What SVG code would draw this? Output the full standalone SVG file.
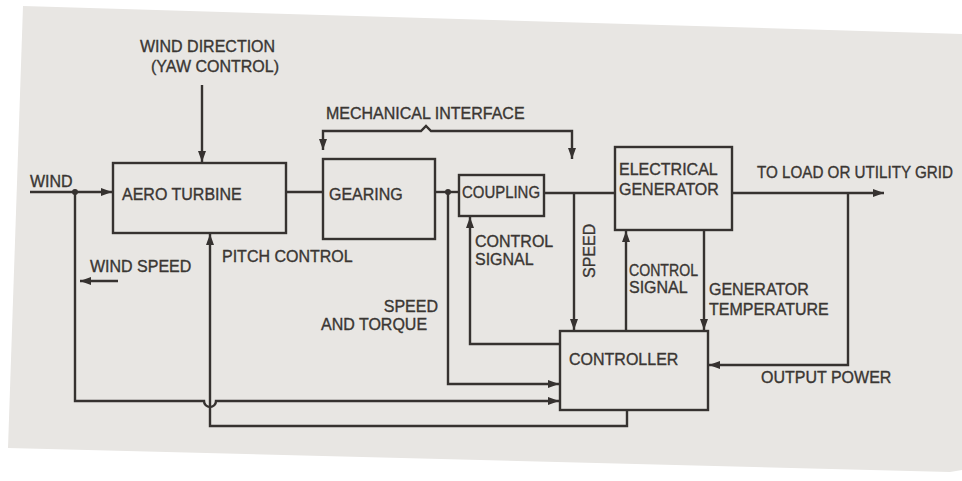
<svg xmlns="http://www.w3.org/2000/svg" width="962" height="481" viewBox="0 0 962 481">
  <defs>
    <marker id="ah" markerUnits="userSpaceOnUse" markerWidth="12" markerHeight="9" refX="11" refY="4" orient="auto-start-reverse">
      <path d="M0,0 L11,4 L0,8 z" fill="#363230"/>
    </marker>
    <style>
      .box { fill: none; stroke: #363230; stroke-width: 2.4; }
      .ln { fill: none; stroke: #363230; stroke-width: 2.4; }
      .arr { marker-end: url(#ah); }
      text { font-family: "Liberation Sans", Arial, sans-serif; font-size: 16px; fill: #3a3633; stroke: #3a3633; stroke-width: 0.35; }
    </style>
  </defs>
  <rect x="0" y="0" width="962" height="481" fill="#ffffff"/>
  <polygon points="23,6 962,34 962,470 950,472 8,448" fill="#e8e6e3"/>

  <g id="connectors">
    <path class="ln arr" d="M202,85 V162"/>
    <path class="ln arr" d="M30,192 H112"/>
    <circle cx="75" cy="192" r="3" fill="#363230"/>
    <path class="ln" d="M286,192 H323"/>
    <path class="ln" d="M435,192 H459"/>
    <circle cx="448" cy="192" r="3" fill="#363230"/>
    <path class="ln" d="M544,193 H615"/>
    <path class="ln arr" d="M732,193 H884"/>
    <path class="ln arr" d="M848,193 V365 H709"/>
    <path class="ln arr" d="M574,193 V330"/>
    <path class="ln arr" d="M626,331 V231"/>
    <path class="ln arr" d="M704,230 V330"/>
    <path class="ln arr" d="M560,344 H470 V217"/>
    <path class="ln arr" d="M448,192 V384 H559"/>
    <path class="ln arr" d="M75,192 V401 H204 A6,6 0 0 0 216,401 H559"/>
    <path class="ln arr" d="M627,410 V426 H210 V234"/>
    <path class="ln" d="M323,150 V131 H421 L426,126 L431,131 H572 V159" marker-start="url(#ah)" marker-end="url(#ah)"/>
    <path class="ln arr" d="M118,281 H80"/>
  </g>

  <g id="aero-turbine">
    <rect class="box" x="113" y="163" width="173" height="70"/>
    <text x="122" y="200">AERO TURBINE</text>
  </g>
  <g id="gearing">
    <rect class="box" x="323" y="159" width="112" height="80"/>
    <text x="329" y="200">GEARING</text>
  </g>
  <g id="coupling">
    <rect class="box" x="459" y="175" width="85" height="41"/>
    <text x="462" y="198" textLength="78" lengthAdjust="spacingAndGlyphs">COUPLING</text>
  </g>
  <g id="electrical-generator">
    <rect class="box" x="615" y="147" width="117" height="83"/>
    <text x="619" y="175">ELECTRICAL</text>
    <text x="619" y="195">GENERATOR</text>
  </g>
  <g id="controller">
    <rect class="box" x="560" y="331" width="148" height="79"/>
    <text x="569" y="365">CONTROLLER</text>
  </g>

  <g id="labels">
    <text x="140" y="52">WIND DIRECTION</text>
    <text x="151" y="72">(YAW CONTROL)</text>
    <text x="326" y="119">MECHANICAL INTERFACE</text>
    <text x="30" y="187">WIND</text>
    <text x="757" y="178" textLength="196" lengthAdjust="spacingAndGlyphs">TO LOAD OR UTILITY GRID</text>
    <text x="222" y="262">PITCH CONTROL</text>
    <text x="90" y="272">WIND SPEED</text>
    <text x="475" y="247">CONTROL</text>
    <text x="475" y="265">SIGNAL</text>
    <text transform="translate(595,278) rotate(-90)">SPEED</text>
    <text x="438" y="312" text-anchor="end">SPEED</text>
    <text x="321" y="330">AND TORQUE</text>
    <text x="629" y="276" textLength="69" lengthAdjust="spacingAndGlyphs">CONTROL</text>
    <text x="629" y="293">SIGNAL</text>
    <text x="709" y="295">GENERATOR</text>
    <text x="709" y="315">TEMPERATURE</text>
    <text x="761" y="383">OUTPUT POWER</text>
  </g>
</svg>
